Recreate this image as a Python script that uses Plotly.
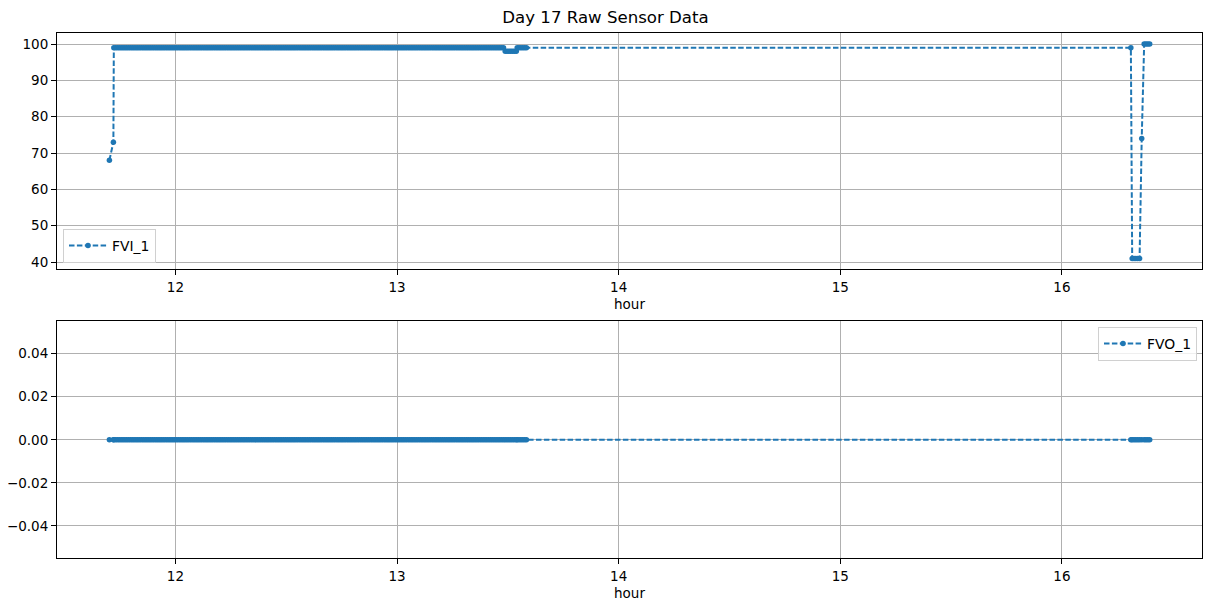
import numpy as np
import plotly.graph_objects as go
from plotly.subplots import make_subplots

# Raw sensor readings, stored as runs of constant value (start hour, end hour, value)
run_start_hour = [11.702, 11.720, 11.722, 13.488, 13.542, 16.311, 16.317, 16.360, 16.371]
run_end_hour = [11.702, 11.720, 13.486, 13.540, 13.585, 16.311, 16.357, 16.360, 16.401]
fvi_run_values = [68, 73, 99, 98, 99, 99, 41, 74, 100]
fvo_run_values = [0, 0, 0, 0, 0, 0, 0, 0, 0]
sample_step_hour = 1 / 120  # one reading every 30 s

title_text = "Day 17 Raw Sensor Data"
x_ticks = [12, 13, 14, 15, 16]
top_y_ticks = [40, 50, 60, 70, 80, 90, 100]
bottom_y_ticks = [-0.04, -0.02, 0.0, 0.02, 0.04]


def expand(starts, ends, values, step):
    hours, vals = [], []
    for s, e, v in zip(starts, ends, values):
        t = np.arange(s, e + 1e-9, step)
        if len(t) == 0:
            t = np.array([s])
        hours.extend(t.tolist())
        vals.extend([v] * len(t))
    return hours, vals


hour, fvi = expand(run_start_hour, run_end_hour, fvi_run_values, sample_step_hour)
_, fvo = expand(run_start_hour, run_end_hour, fvo_run_values, sample_step_hour)

BLUE = "#1f77b4"
FONT = "DejaVu Sans"
W, H = 1211, 611
L, R = 57, 9

fig = make_subplots(rows=2, cols=1)

line_style = dict(color=BLUE, width=2, dash="5.5px,2.4px")
marker_style = dict(color=BLUE, size=5.5, line=dict(width=0))

fig.add_trace(go.Scatter(x=hour, y=fvi, mode="lines+markers", name="FVI_1",
                         line=line_style, marker=marker_style, legend="legend"),
              row=1, col=1)
fig.add_trace(go.Scatter(x=hour, y=fvo, mode="lines+markers", name="FVO_1",
                         line=line_style, marker=marker_style, legend="legend2"),
              row=2, col=1)

axis_common = dict(
    showline=True, linecolor="black", linewidth=1.1, mirror=True,
    ticks="outside", ticklen=5, tickwidth=1.1, tickcolor="black",
    showgrid=True, gridcolor="#b0b0b0", gridwidth=1.1,
    zeroline=False, automargin=False,
    tickfont=dict(family=FONT, size=13.5, color="black"),
)

xr = [11.4656, 16.632]
fig.update_layout(
    xaxis=dict(domain=[0, 1], range=xr, tickvals=x_ticks, ticktext=[str(t) for t in x_ticks],
               title=dict(text="hour", font=dict(family=FONT, size=13.5, color="black"), standoff=6),
               **axis_common),
    yaxis=dict(domain=[1 - 269.3 / H, 1 - 33.3 / H], range=[38.0, 102.95], tickvals=top_y_ticks,
               **axis_common),
    xaxis2=dict(domain=[0, 1], range=xr, tickvals=x_ticks, ticktext=[str(t) for t in x_ticks],
                title=dict(text="hour", font=dict(family=FONT, size=13.5, color="black"), standoff=6),
                **axis_common),
    yaxis2=dict(domain=[1 - 558.3 / H, 1 - 321.3 / H], range=[-0.055, 0.055], tickvals=bottom_y_ticks,
                tickformat=".2f", **axis_common),
)

fig.update_layout(
    width=W, height=H,
    margin=dict(l=L, r=R, t=0, b=0),
    paper_bgcolor="white", plot_bgcolor="white",
    font=dict(family=FONT, size=13.5, color="black"),
    title=dict(text=title_text, x=0.5, xref="container", xanchor="center",
               y=1 - 17 / H, yref="container", yanchor="middle",
               font=dict(family=FONT, size=16.6, color="black")),
    legend=dict(x=(63 - L) / (W - L - R), y=1 - 263 / H, xanchor="left", yanchor="bottom",
                bgcolor="rgba(255,255,255,0.8)", bordercolor="#d0d0d0", borderwidth=1,
                itemwidth=38, font=dict(family=FONT, size=13.9, color="black")),
    legend2=dict(x=(1197 - L) / (W - L - R), y=1 - 327 / H, xanchor="right", yanchor="top",
                 bgcolor="rgba(255,255,255,0.8)", bordercolor="#d0d0d0", borderwidth=1,
                 itemwidth=38, font=dict(family=FONT, size=13.9, color="black")),
    showlegend=True,
)

fig.write_html(
    "out.html",
    config={"displayModeBar": False},
    post_script="document.body.style.margin='0';document.body.style.overflow='hidden';",
)
